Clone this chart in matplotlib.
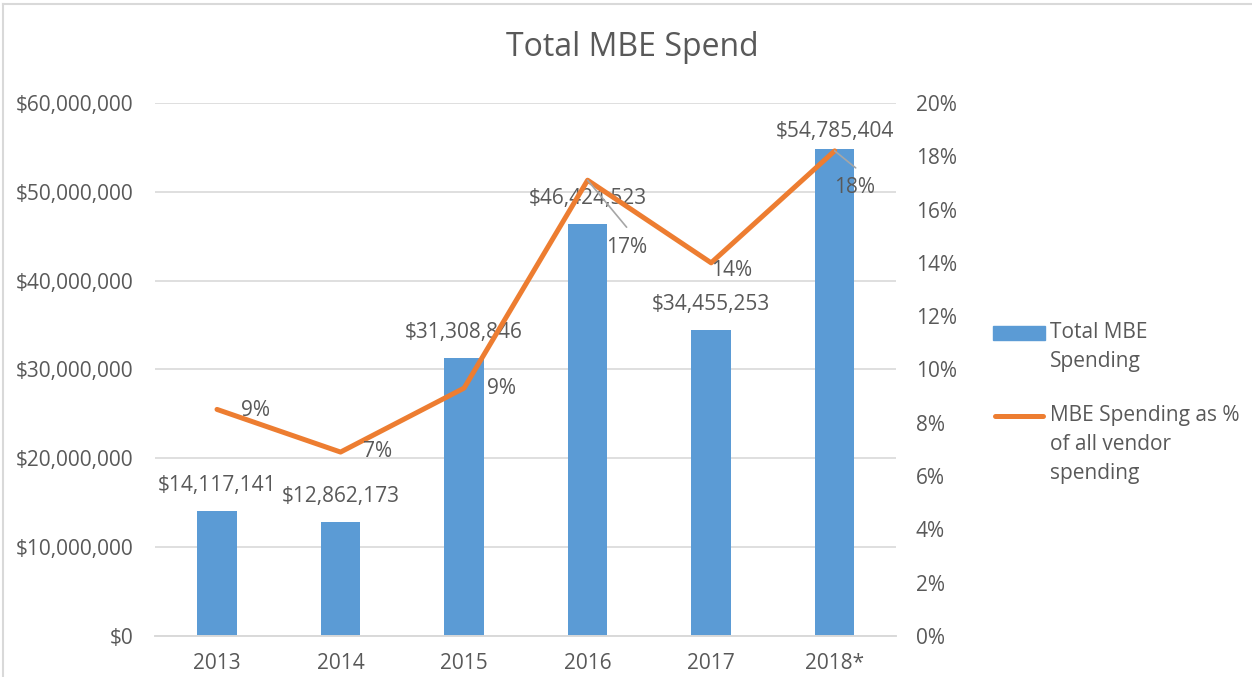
import matplotlib.pyplot as plt
from matplotlib.lines import Line2D
from matplotlib.patches import Rectangle
from matplotlib.ticker import FuncFormatter

years = ['2013', '2014', '2015', '2016', '2017', '2018*']
spend = [14117141, 12862173, 31308846, 46424523, 34455253, 54785404]
pct = [8.5, 6.9, 9.3, 17.1, 14.0, 18.2]
pct_labels = ['9%', '7%', '9%', '17%', '14%', '18%']

text_color = '#595959'
bar_color = '#5b9bd5'
line_color = '#ed7d31'
grid_color = '#d9d9d9'
fs = 15

plt.rcParams['font.family'] = ['Open Sans', 'DejaVu Sans']

fig = plt.figure(figsize=(12.52, 6.77), dpi=100)
W, H = 1252.0, 677.0
ax = fig.add_axes([0.124, 0.0606, 0.592, 0.7874])
ax2 = ax.twinx()

x = range(len(years))
ax.bar(x, spend, width=0.32, color=bar_color, zorder=2)
ax.set_xlim(-0.5, 5.5)
ax.set_ylim(0, 60000000)
ax.set_yticks(range(0, 60000001, 10000000))
ax.yaxis.set_major_formatter(FuncFormatter(lambda v, p: '${:,.0f}'.format(v)))
ax.set_xticks(list(x))
ax.set_xticklabels(years)
ax.grid(axis='y', color=grid_color, linewidth=1.2, zorder=0)
ax.set_axisbelow(True)

ax2.plot(x, pct, color=line_color, linewidth=3.6, solid_capstyle='round', zorder=3)
ax2.set_ylim(0, 20)
ax2.set_yticks(range(0, 21, 2))
ax2.yaxis.set_major_formatter(FuncFormatter(lambda v, p: '{:.0f}%'.format(v)))

for a in (ax, ax2):
    for s in ('top', 'left', 'right'):
        a.spines[s].set_visible(False)
    a.spines['bottom'].set_color(grid_color)
    a.spines['bottom'].set_linewidth(1.2)
    a.tick_params(length=0, labelsize=fs, labelcolor=text_color)
ax.tick_params(axis='y', pad=16)
ax.tick_params(axis='x', pad=12)
ax2.tick_params(axis='y', pad=14)

px = 0.72  # pixels -> points

# bar value labels
bar_off = [25, 25, 25, 25, 25, 18]
for i, v in enumerate(spend):
    ax.annotate('${:,.0f}'.format(v), (i, v), xytext=(0, bar_off[i] * px),
                textcoords='offset points', ha='center', va='center',
                fontsize=fs, color=text_color, zorder=5)

# line value labels (offsets in pixels, label centre from point)
offsets = [(38, -1), (37, 1), (37, 0), (39, -67), (20, -8), (20, -37)]
for i, (p, lab) in enumerate(zip(pct, pct_labels)):
    dx, dy = offsets[i]
    ax2.annotate(lab, (i, p), xytext=(dx * px, dy * px), textcoords='offset points',
                 ha='center', va='center', fontsize=fs, color=text_color, zorder=5)

# leader lines
for i, (dx, dy) in [(3, (39, -47)), (5, (21, -17))]:
    ax2.annotate('', (i, pct[i]), xytext=(dx * px, dy * px), textcoords='offset points',
                 arrowprops=dict(arrowstyle='-', color='#a6a6a6', lw=1.2,
                                 shrinkA=0, shrinkB=0))

fig.text(0.505, 1 - 48 / H, 'Total MBE Spend', ha='center', va='center',
         fontsize=23, color=text_color)

# legend
fig.add_artist(Rectangle((993 / W, 1 - 340 / H), 52 / W, 14 / H,
                         transform=fig.transFigure, color=bar_color))
fig.add_artist(Line2D([995 / W, 1043 / W], [1 - 416 / H, 1 - 416 / H],
                      color=line_color, lw=3.6, solid_capstyle='round'))
for txt, y in [('Total MBE', 332), ('Spending', 361), ('MBE Spending as %', 416),
               ('of all vendor', 445), ('spending', 474)]:
    fig.text(1050 / W, 1 - y / H, txt, ha='left', va='center', fontsize=fs,
             color=text_color)

# chart frame
fig.add_artist(Line2D([0.0025, 1], [0.994, 0.994], color=grid_color, lw=1.5))
fig.add_artist(Line2D([0.0025, 0.0025], [0, 0.994], color=grid_color, lw=1.5))

fig.savefig('out.png', dpi=100)
